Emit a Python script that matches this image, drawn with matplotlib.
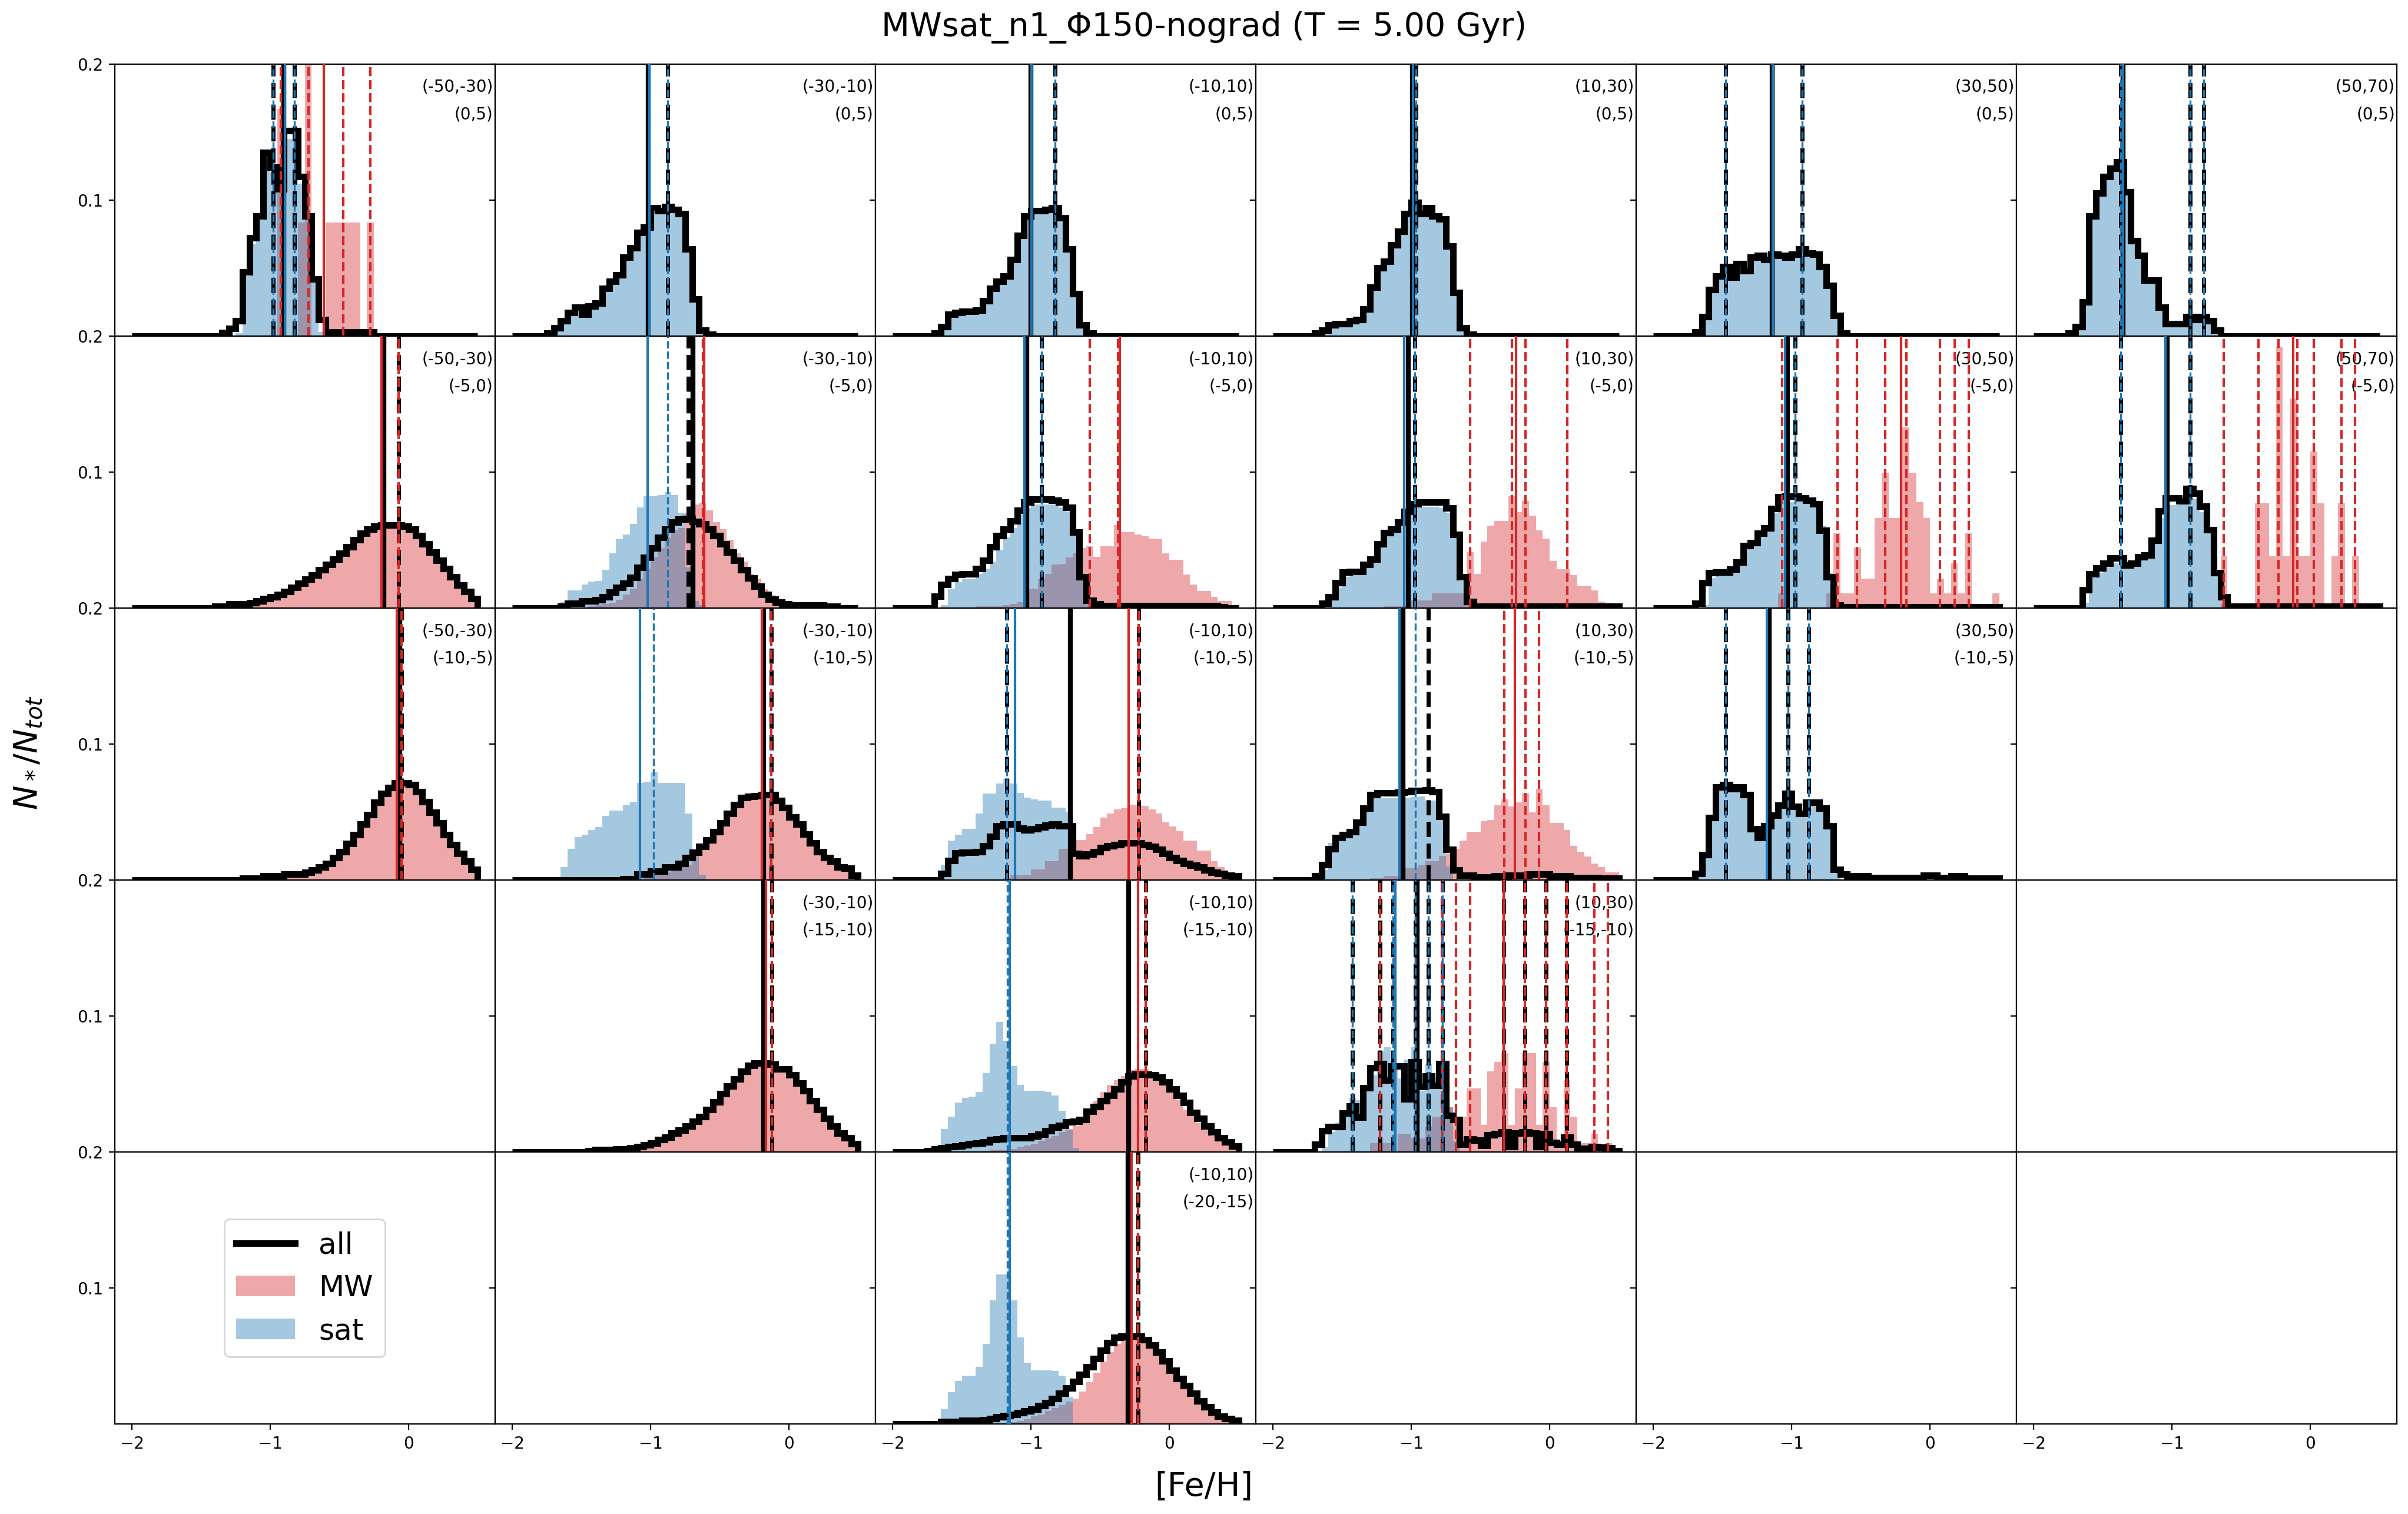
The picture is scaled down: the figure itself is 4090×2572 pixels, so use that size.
import numpy as np
import matplotlib
matplotlib.use("Agg")
import matplotlib.pyplot as plt
from matplotlib.lines import Line2D
from matplotlib.patches import Patch

# ---------------- data ----------------
TITLE = "MWsat_n1_Φ150-nograd (T = 5.00 Gyr)"
BIN_LO, BIN_HI, N_BINS = -2.0, 0.5, 50
X_LABELS = ["(-50,-30)", "(-30,-10)", "(-10,10)", "(10,30)", "(30,50)", "(50,70)"]
Z_LABELS = ["(0,5)", "(-5,0)", "(-10,-5)", "(-15,-10)", "(-20,-15)"]

# histograms: (first bin index, values)   bins of 0.05 dex from -2 to 0.5
ALL_00 = (13, [0.0025, 0.0055, 0.011, 0.047, 0.072, 0.088, 0.135, 0.124, 0.108, 0.151, 0.151, 0.117,
               0.088, 0.042, 0.012, 0.003, 0.003, 0.003, 0.003, 0.003, 0.003, 0.003])
SAT_00 = (15, [0.002, 0.044, 0.068, 0.085, 0.13, 0.12, 0.105, 0.145, 0.145, 0.112, 0.085, 0.04, 0.003])
MW_00 = (21, [0.1667, 0, 0, 0.0833, 0.25, 0, 0, 0.0833, 0.0833, 0.0833, 0.0833, 0.0833, 0, 0.0833])

ALL_01 = (5, [0.002, 0.006, 0.011, 0.017, 0.021, 0.016, 0.022, 0.024, 0.035, 0.040, 0.045, 0.058, 0.065,
              0.076, 0.080, 0.094, 0.092, 0.095, 0.093, 0.090, 0.064, 0.027, 0.004, 0.001])
SAT_01 = (5, [0.002, 0.006, 0.011, 0.017, 0.021, 0.016, 0.022, 0.024, 0.035, 0.040, 0.045, 0.058, 0.065,
              0.076, 0.080, 0.094, 0.092, 0.095, 0.093, 0.090, 0.064, 0.027, 0.004, 0.001])

ALL_02 = (6, [0.002, 0.007, 0.016, 0.017, 0.018, 0.018, 0.019, 0.026, 0.035, 0.040, 0.044, 0.056, 0.074,
              0.088, 0.092, 0.092, 0.093, 0.094, 0.087, 0.064, 0.031, 0.008, 0.002])
SAT_02 = (6, [0.002, 0.007, 0.016, 0.017, 0.018, 0.018, 0.019, 0.026, 0.035, 0.040, 0.044, 0.056, 0.074,
              0.088, 0.092, 0.092, 0.093, 0.094, 0.087, 0.064, 0.031, 0.008, 0.002])

ALL_03 = (6, [0.002, 0.004, 0.008, 0.009, 0.009, 0.011, 0.012, 0.020, 0.036, 0.050, 0.055, 0.067, 0.077,
              0.090, 0.098, 0.090, 0.094, 0.088, 0.086, 0.066, 0.032, 0.006, 0.001])
SAT_03 = (6, [0.002, 0.004, 0.008, 0.009, 0.009, 0.011, 0.012, 0.020, 0.036, 0.050, 0.055, 0.067, 0.077,
              0.090, 0.098, 0.090, 0.094, 0.088, 0.086, 0.066, 0.032, 0.006, 0.001])

ALL_04 = (6, [0.003, 0.014, 0.034, 0.044, 0.051, 0.043, 0.053, 0.048, 0.058, 0.059, 0.056, 0.060, 0.059,
              0.058, 0.060, 0.064, 0.061, 0.060, 0.051, 0.037, 0.015, 0.002])
SAT_04 = (6, [0.003, 0.014, 0.034, 0.044, 0.051, 0.043, 0.053, 0.048, 0.058, 0.059, 0.056, 0.060, 0.059,
              0.058, 0.060, 0.064, 0.061, 0.060, 0.051, 0.037, 0.015, 0.002])

ALL_05 = (5, [0.002, 0.007, 0.025, 0.088, 0.105, 0.117, 0.123, 0.128, 0.106, 0.070, 0.059, 0.041, 0.041,
              0.021, 0.009, 0.009, 0.009, 0.014, 0.012, 0.014, 0.011, 0.004])
SAT_05 = (5, [0.002, 0.007, 0.025, 0.088, 0.105, 0.117, 0.123, 0.128, 0.106, 0.070, 0.059, 0.041, 0.041,
              0.021, 0.009, 0.009, 0.009, 0.014, 0.012, 0.014, 0.011, 0.004])

ALL_10 = (12, [0.0014, 0.0014, 0.003, 0.003, 0.003, 0.004, 0.005, 0.007, 0.008, 0.010, 0.012, 0.015, 0.018,
               0.021, 0.024, 0.028, 0.032, 0.036, 0.040, 0.045, 0.050, 0.055, 0.058, 0.060, 0.061, 0.061,
               0.061, 0.060, 0.058, 0.053, 0.047, 0.041, 0.035, 0.029, 0.023, 0.017, 0.012, 0.007])
MW_10 = (12, [0.0014, 0.0014, 0.003, 0.003, 0.003, 0.004, 0.005, 0.007, 0.008, 0.010, 0.012, 0.015, 0.018,
              0.021, 0.024, 0.028, 0.032, 0.036, 0.040, 0.045, 0.050, 0.055, 0.058, 0.060, 0.061, 0.061,
              0.061, 0.060, 0.058, 0.053, 0.047, 0.041, 0.035, 0.029, 0.023, 0.017, 0.012, 0.007])

ALL_11 = (7, [0.0014, 0.0036, 0.0036, 0.005, 0.005, 0.006, 0.008, 0.0115, 0.015, 0.018, 0.0224, 0.030,
              0.037, 0.044, 0.052, 0.058, 0.063, 0.0655, 0.0657, 0.0635, 0.062, 0.058, 0.053, 0.047, 0.041,
              0.035, 0.028, 0.022, 0.016, 0.010, 0.0065, 0.0043, 0.003, 0.002, 0.002, 0.002, 0.002, 0.002,
              0.0014, 0.0014])
SAT_11 = (6, [0.002, 0.0043, 0.013, 0.013, 0.0173, 0.0195, 0.020, 0.028, 0.040, 0.0505, 0.054, 0.062, 0.074,
              0.082, 0.082, 0.083, 0.085, 0.083, 0.070, 0.030, 0.005, 0.002])
MW_11 = (11, [0.0014, 0.002, 0.003, 0.004, 0.006, 0.010, 0.0144, 0.0217, 0.029, 0.0375, 0.044, 0.052, 0.057,
              0.059, 0.070, 0.076, 0.077, 0.072, 0.063, 0.058, 0.050, 0.040, 0.034, 0.025, 0.0217, 0.0137,
              0.0094, 0.005, 0.0014])

ALL_12 = (6, [0.0087, 0.0173, 0.0217, 0.0245, 0.025, 0.025, 0.029, 0.035, 0.045, 0.053, 0.058, 0.064, 0.072,
              0.078, 0.080, 0.080, 0.080, 0.079, 0.078, 0.074, 0.056, 0.023, 0.0058, 0.003, 0.0017, 0.0017,
              0.0017, 0.0017, 0.0017, 0.0017, 0.0017, 0.0017, 0.0017, 0.0017, 0.0017, 0.0017, 0.0017, 0.0017,
              0.0017, 0.0017, 0.0017, 0.001])
SAT_12 = (7, [0.002, 0.0144, 0.0188, 0.0217, 0.0217, 0.025, 0.029, 0.034, 0.043, 0.052, 0.059, 0.0686, 0.0736,
              0.076, 0.076, 0.076, 0.076, 0.074, 0.0708, 0.054, 0.0225, 0.003])
MW_12 = (12, [0.0014, 0.0014, 0.0014, 0.0014, 0.002, 0.003, 0.0043, 0.0137, 0.0144, 0.0217, 0.025, 0.032,
              0.0325, 0.037, 0.040, 0.044, 0.0455, 0.0375, 0.0455, 0.0455, 0.061, 0.056, 0.0556, 0.054, 0.0527,
              0.051, 0.0505, 0.040, 0.0354, 0.0354, 0.0245, 0.0173, 0.0123, 0.0123, 0.008, 0.005, 0.005])

ALL_13 = (7, [0.0033, 0.0084, 0.0186, 0.0265, 0.027, 0.027, 0.032, 0.036, 0.047, 0.0555, 0.058, 0.063, 0.071,
              0.0765, 0.078, 0.078, 0.078, 0.078, 0.0736, 0.054, 0.023, 0.0048, 0.0012, 0.0012, 0.0012,
              0.0012, 0.0012, 0.0012, 0.0012, 0.0012, 0.0012, 0.0012, 0.0012, 0.0012, 0.0012, 0.0012, 0.0012,
              0.0012, 0.0012, 0.0012, 0.0012, 0.0012, 0.0012])
SAT_13 = (7, [0.002, 0.0055, 0.015, 0.023, 0.025, 0.025, 0.030, 0.035, 0.046, 0.054, 0.0577, 0.063, 0.0707,
              0.0736, 0.0743, 0.0743, 0.0743, 0.0735, 0.070, 0.052, 0.020, 0.002])
MW_13 = (16, [0.0012, 0.0012, 0.0012, 0.0012, 0.0055, 0.0055, 0.0055, 0.0106, 0.0106, 0.0106, 0.0106, 0.0106,
              0.041, 0.025, 0.049, 0.0606, 0.0638, 0.0638, 0.0826, 0.0707, 0.0787, 0.0678, 0.057, 0.051,
              0.0345, 0.0287, 0.0287, 0.0243, 0.0164, 0.0164, 0.0128, 0.0048, 0.004, 0.0026])

ALL_14 = (6, [0.0033, 0.0186, 0.0258, 0.0265, 0.0265, 0.0287, 0.0338, 0.046, 0.048, 0.055, 0.059, 0.073,
              0.0816, 0.0823, 0.0823, 0.081, 0.079, 0.0765, 0.057, 0.023, 0.002, 0.001, 0.001, 0.001, 0.001,
              0.001, 0.001, 0.001, 0.001, 0.001, 0.001, 0.001, 0.001, 0.001, 0.001, 0.001, 0.001, 0.001,
              0.001, 0.001, 0.001, 0.001, 0.001, 0.001])
SAT_14 = (7, [0.002, 0.022, 0.0265, 0.0265, 0.027, 0.031, 0.0446, 0.0475, 0.054, 0.0577, 0.070, 0.078, 0.078,
              0.078, 0.078, 0.078, 0.0765, 0.0606, 0.0258, 0.002])
MW_14 = (18, [0.0106, 0, 0, 0, 0, 0, 0, 0.0106, 0.0548, 0.0106, 0.0106, 0.0446, 0.0214, 0.0214, 0.066, 0.0997,
              0.066, 0.066, 0.133, 0.0997, 0.0777, 0.066, 0.0106, 0.0217, 0.0106, 0.033, 0.0106, 0.0548, 0, 0,
              0, 0.0106])

ALL_15 = (7, [0.0135, 0.025, 0.0294, 0.0330, 0.0367, 0.0367, 0.0316, 0.033, 0.0375, 0.039, 0.0497, 0.0714,
              0.0809, 0.0809, 0.0787, 0.088, 0.0845, 0.075, 0.0577, 0.0258, 0.0084, 0.0012, 0.0012, 0.0012,
              0.0012, 0.0012, 0.0012, 0.0012, 0.0012, 0.0012, 0.0012, 0.0012, 0.0012, 0.0012, 0.0012, 0.0012,
              0.0012, 0.0012, 0.0012, 0.0012, 0.0012, 0.0012, 0.0012])
SAT_15 = (7, [0.004, 0.022, 0.026, 0.030, 0.033, 0.033, 0.031, 0.033, 0.036, 0.038, 0.0475, 0.066, 0.0758,
              0.0758, 0.076, 0.080, 0.080, 0.0707, 0.0548, 0.0265, 0.003])
MW_15 = (27, [0.038, 0, 0, 0, 0, 0.0768, 0.0768, 0.038, 0.192, 0.038, 0.154, 0.038, 0.038, 0.115, 0.0768, 0,
              0.038, 0.0768, 0, 0.038])

ALL_20 = (16, [0.0014, 0.0014, 0.0014, 0.003, 0.003, 0.003, 0.0043, 0.0043, 0.0043, 0.0058, 0.0072, 0.0094,
               0.0123, 0.0166, 0.021, 0.0267, 0.0332, 0.041, 0.048, 0.057, 0.0635, 0.068, 0.0715, 0.0715,
               0.070, 0.065, 0.0578, 0.0498, 0.042, 0.0332, 0.026, 0.0195, 0.0137, 0.008])
MW_20 = (16, [0.0014, 0.0014, 0.0014, 0.003, 0.003, 0.003, 0.0043, 0.0043, 0.0043, 0.0058, 0.0072, 0.0094,
              0.0123, 0.0166, 0.021, 0.0267, 0.0332, 0.041, 0.048, 0.057, 0.0635, 0.068, 0.0715, 0.0715,
              0.070, 0.065, 0.0578, 0.0498, 0.042, 0.0332, 0.026, 0.0195, 0.0137, 0.008])

ALL_21 = (16, [0.0007, 0.0007, 0.0043, 0.0043, 0.0065, 0.0065, 0.0094, 0.0094, 0.0123, 0.0166, 0.0202, 0.0245,
               0.0296, 0.0354, 0.0419, 0.049, 0.0556, 0.0606, 0.0614, 0.0620, 0.0628, 0.0630, 0.0585, 0.0534,
               0.0462, 0.041, 0.034, 0.0274, 0.021, 0.0166, 0.0137, 0.0094, 0.0087, 0.0036])
SAT_21 = (7, [0.0094, 0.023, 0.0318, 0.0332, 0.0368, 0.039, 0.047, 0.0513, 0.0513, 0.0556, 0.0578, 0.0715,
              0.0722, 0.0794, 0.0715, 0.0715, 0.0715, 0.0715, 0.049, 0.021, 0.004])
MW_21 = (19, [0.002, 0.0036, 0.0045, 0.0058, 0.0075, 0.0095, 0.0115, 0.018, 0.0245, 0.0296, 0.0354, 0.0419,
              0.049, 0.0556, 0.0606, 0.0614, 0.062, 0.0628, 0.063, 0.0585, 0.0534, 0.0462, 0.041, 0.034,
              0.0274, 0.021, 0.0166, 0.0137, 0.0094, 0.0087, 0.0036])

ALL_22 = (7, [0.005, 0.0144, 0.020, 0.0202, 0.0202, 0.021, 0.025, 0.032, 0.0397, 0.041, 0.041, 0.038, 0.0368,
              0.0375, 0.039, 0.0404, 0.041, 0.040, 0.040, 0.0195, 0.018, 0.019, 0.021, 0.0238, 0.025, 0.026,
              0.0274, 0.0274, 0.0274, 0.026, 0.0245, 0.0224, 0.0195, 0.0166, 0.0145, 0.0123, 0.011, 0.0094,
              0.0075, 0.0058, 0.0047, 0.0036, 0.003])
SAT_22 = (7, [0.0115, 0.029, 0.0332, 0.0375, 0.0375, 0.049, 0.0635, 0.0635, 0.0708, 0.0744, 0.0708, 0.0643,
              0.0607, 0.0592, 0.0585, 0.0585, 0.0534, 0.0534, 0.050])
MW_22 = (16, [0.0014, 0.0036, 0.0036, 0.0036, 0.008, 0.008, 0.0137, 0.0137, 0.023, 0.023, 0.0296, 0.0296,
              0.034, 0.039, 0.046, 0.049, 0.052, 0.0527, 0.0556, 0.0556, 0.0545, 0.052, 0.049, 0.0426, 0.0395,
              0.0361, 0.0289, 0.0289, 0.0217, 0.0217, 0.0137, 0.0094, 0.0036, 0.0036])

ALL_23 = (6, [0.003, 0.0115, 0.023, 0.031, 0.0332, 0.0354, 0.0426, 0.0527, 0.0628, 0.0643, 0.0643, 0.0643,
              0.0645, 0.065, 0.0657, 0.0657, 0.0664, 0.065, 0.0469, 0.0224, 0.0072, 0.0036, 0.0036, 0.0022,
              0.0022, 0.0022, 0.003, 0.003, 0.0036, 0.0036, 0.0036, 0.0043, 0.0043, 0.0043, 0.003, 0.003,
              0.003, 0.0019, 0.0019, 0.0019, 0.0019, 0.0014, 0.0014, 0.0014])
SAT_23 = (7, [0.0072, 0.0274, 0.031, 0.032, 0.0361, 0.0433, 0.0549, 0.065, 0.060, 0.060, 0.060, 0.060, 0.0605,
              0.061, 0.0614, 0.0585, 0.0585, 0.0477, 0.010])
MW_23 = (14, [0.0014, 0.0014, 0.003, 0.003, 0.004, 0.0087, 0.0087, 0.011, 0.0137, 0.0137, 0.018, 0.0195,
              0.023, 0.0289, 0.0354, 0.0354, 0.0433, 0.044, 0.0549, 0.0592, 0.054, 0.057, 0.0635, 0.0498,
              0.0671, 0.0549, 0.0419, 0.0419, 0.0368, 0.0253, 0.021, 0.0173, 0.0123, 0.0094, 0.0058, 0.0058])

ALL_24 = (6, [0.005, 0.0188, 0.046, 0.0686, 0.070, 0.0671, 0.0686, 0.0628, 0.0375, 0.031, 0.0397, 0.0477,
              0.0549, 0.0635, 0.054, 0.049, 0.057, 0.057, 0.0527, 0.0397, 0.0079, 0.0043, 0.003, 0.003, 0.003,
              0.0019, 0.0019, 0.0019, 0.0019, 0.0019, 0.0019, 0.0019, 0.0019, 0.0036, 0.0036, 0.0019, 0.0019,
              0.003, 0.003, 0.0014, 0.0014, 0.0014, 0.0014, 0.0014])
SAT_24 = (6, [0.004, 0.018, 0.045, 0.067, 0.069, 0.066, 0.067, 0.061, 0.036, 0.030, 0.039, 0.047, 0.054,
              0.062, 0.053, 0.048, 0.056, 0.056, 0.052, 0.039, 0.007])

ALL_31 = (11, [0.001, 0.0017, 0.0017, 0.0017, 0.0025, 0.0025, 0.0032, 0.0039, 0.0053, 0.0068, 0.009, 0.0111,
               0.014, 0.0162, 0.019, 0.0227, 0.0263, 0.0314, 0.0371, 0.0429, 0.0487, 0.0538, 0.0595, 0.0639,
               0.0653, 0.0653, 0.0646, 0.061, 0.061, 0.0566, 0.0509, 0.0451, 0.0379, 0.0314, 0.0249, 0.019,
               0.014, 0.0104, 0.0061])
MW_31 = (11, [0.001, 0.0017, 0.0017, 0.0017, 0.0025, 0.0025, 0.0032, 0.0039, 0.0053, 0.0068, 0.009, 0.0111,
              0.014, 0.0162, 0.019, 0.0227, 0.0263, 0.0314, 0.0371, 0.0429, 0.0487, 0.0538, 0.0595, 0.0639,
              0.0653, 0.0653, 0.0646, 0.061, 0.061, 0.0566, 0.0509, 0.0451, 0.0379, 0.0314, 0.0249, 0.019,
              0.014, 0.0104, 0.0061])

ALL_32 = (5, [0.001, 0.0025, 0.003, 0.0039, 0.0046, 0.0053, 0.006, 0.0068, 0.0075, 0.009, 0.0097, 0.0104,
              0.0104, 0.0104, 0.0104, 0.012, 0.0133, 0.0155, 0.0184, 0.0198, 0.022, 0.0227, 0.0241, 0.0299,
              0.0335, 0.0379, 0.0415, 0.0465, 0.0516, 0.0559, 0.0574, 0.0574, 0.0566, 0.0552, 0.0516, 0.0465,
              0.0415, 0.0364, 0.0292, 0.0249, 0.019, 0.0147, 0.0104, 0.0075, 0.0046])
SAT_32 = (7, [0.0169, 0.0263, 0.0364, 0.040, 0.0408, 0.0444, 0.058, 0.0798, 0.0957, 0.082, 0.0632, 0.0494,
              0.0451, 0.0451, 0.0451, 0.0444, 0.0415, 0.0306, 0.0162, 0.003])
MW_32 = (13, [0.001, 0.0017, 0.0017, 0.0017, 0.0025, 0.0039, 0.005, 0.006, 0.0082, 0.01, 0.0118, 0.0147,
              0.0169, 0.019, 0.0256, 0.0314, 0.0379, 0.0444, 0.0494, 0.053, 0.056, 0.0603, 0.061, 0.061,
              0.0581, 0.0559, 0.0509, 0.0465, 0.0386, 0.0314, 0.027, 0.0212, 0.0162, 0.0118, 0.0082, 0.005,
              0.0025])

ALL_33 = (6, [0.0058, 0.0156, 0.0187, 0.0187, 0.0285, 0.0338, 0.0255, 0.0475, 0.0619, 0.065, 0.0528, 0.0634,
              0.0634, 0.0392, 0.0665, 0.0483, 0.0558, 0.049, 0.065, 0.027, 0.024, 0.0058, 0.0096, 0.0088,
              0.005, 0.0126, 0.0134, 0.0149, 0.004, 0.0141, 0.0149, 0.0141, 0.004, 0.0134, 0.007, 0.0058,
              0.011, 0.0058, 0.0027, 0.0027, 0.004, 0.0035, 0.003, 0.0012])
SAT_33 = (7, [0.0035, 0.015, 0.0217, 0.030, 0.040, 0.038, 0.0483, 0.0566, 0.074, 0.077, 0.063, 0.0543, 0.068,
              0.077, 0.0452, 0.065, 0.055, 0.0657, 0.033, 0.008])
MW_33 = (14, [0.0065, 0.0065, 0.0065, 0, 0.0134, 0.0134, 0.01, 0.01, 0.0187, 0.026, 0.026, 0.033, 0.026,
              0.026, 0.0467, 0.0467, 0.0202, 0.0596, 0.0665, 0.0728, 0.0202, 0.0467, 0.0728, 0.0728, 0.0202,
              0.0665, 0.033, 0.006, 0.0528, 0.026, 0.0065, 0.0065, 0.0134, 0.003, 0.0065])

ALL_42 = (7, [0.0019, 0.0019, 0.0019, 0.0026, 0.0026, 0.0026, 0.0034, 0.0042, 0.0053, 0.0062, 0.0073, 0.0084,
              0.0096, 0.011, 0.0135, 0.0158, 0.0189, 0.0228, 0.0266, 0.0313, 0.0367, 0.042, 0.0483, 0.0545,
              0.060, 0.0638, 0.0646, 0.0646, 0.0646, 0.0622, 0.0584, 0.053, 0.0467, 0.0398, 0.0336, 0.0282,
              0.0228, 0.0173, 0.0127, 0.0088, 0.0057, 0.0042, 0.0026])
SAT_42 = (7, [0.011, 0.0235, 0.032, 0.0359, 0.0359, 0.042, 0.059, 0.0909, 0.110, 0.110, 0.0909, 0.0638,
              0.0452, 0.0398, 0.0398, 0.0398, 0.039, 0.0359, 0.020])
MW_42 = (15, [0.0006, 0.001, 0.0017, 0.0025, 0.0036, 0.0057, 0.0073, 0.0096, 0.0119, 0.014, 0.0165, 0.019,
              0.024, 0.031, 0.038, 0.046, 0.053, 0.059, 0.063, 0.0646, 0.0646, 0.0622, 0.0584, 0.053, 0.0467,
              0.0398, 0.0336, 0.0282, 0.0228, 0.0173, 0.0127, 0.0088, 0.0057, 0.0042, 0.0026])

# vertical markers: (median, [peaks]) for all / MW / sat
LINES_00 = dict(all=(-0.90, [-0.978, -0.824]), mw=(-0.611, [-0.922, -0.724, -0.472, -0.276]),
                sat=(-0.892, [-0.978, -0.824]))
LINES_01 = dict(all=(-1.016, [-0.878]), sat=(-1.010, [-0.878]))
LINES_02 = dict(all=(-1.0, [-0.826]), sat=(-0.995, [-0.826]))
LINES_03 = dict(all=(-0.992, [-0.966]), sat=(-0.988, [-0.966]))
LINES_04 = dict(all=(-1.14, [-1.479, -0.923]), sat=(-1.136, [-1.479, -0.923]))
LINES_05 = dict(all=(-1.357, [-1.37, -0.869, -0.774]), sat=(-1.353, [-1.37, -0.869, -0.774]))
LINES_10 = dict(all=(-0.178, [-0.073]), mw=(-0.196, [-0.073]))
LINES_11 = dict(all=(-0.695, [-0.73]), mw=(-0.615, [-0.62]), sat=(-1.022, [-0.875]))
LINES_12 = dict(all=(-1.03, [-0.924]), mw=(-0.356, [-0.576, -0.37]), sat=(-1.049, [-0.924]))
LINES_13 = dict(all=(-1.024, [-0.976]), mw=(-0.245, [-0.574, -0.272, -0.176, 0.125]), sat=(-1.05, [-0.976]))
LINES_14 = dict(all=(-1.03, [-0.976]),
                mw=(-0.209, [-1.07, -0.669, -0.527, -0.326, -0.172, 0.072, 0.178, 0.279]),
                sat=(-1.05, [-0.976]))
LINES_15 = dict(all=(-1.034, [-1.372, -0.87]),
                mw=(-0.124, [-0.627, -0.378, -0.23, -0.097, 0.025, 0.226, 0.321]),
                sat=(-1.05, [-1.372, -0.87]))
LINES_20 = dict(all=(-0.065, [-0.049]), mw=(-0.086, [-0.049]))
LINES_21 = dict(all=(-0.182, [-0.129]), mw=(-0.197, [-0.129]), sat=(-1.079, [-0.979]))
LINES_22 = dict(all=(-0.714, [-1.174, -0.223]), mw=(-0.292, [-0.223]), sat=(-1.115, [-1.174]))
LINES_23 = dict(all=(-1.06, [-0.876]), mw=(-0.251, [-0.329, -0.177, -0.078]), sat=(-1.088, [-0.971]))
LINES_24 = dict(all=(-1.162, [-1.48, -1.025, -0.876]), sat=(-1.18, [-1.48, -1.025, -0.876]))
LINES_31 = dict(all=(-0.183, [-0.123]), mw=(-0.165, [-0.123]))
LINES_32 = dict(all=(-0.292, [-0.172]), mw=(-0.225, [-0.172]), sat=(-1.153, [-1.171]))
LINES_33 = dict(all=(-0.96, [-1.428, -1.226, -1.131, -0.972, -0.877, -0.776, -0.331, -0.179, -0.025, 0.124]),
                mw=(-0.331, [-1.226, -0.776, -0.677, -0.575, -0.331, -0.179, -0.025, 0.124, 0.323, 0.422]),
                sat=(-1.116, [-1.428, -1.131, -0.972, -0.877, -0.776]))
LINES_42 = dict(all=(-0.298, [-0.226]), mw=(-0.272, [-0.226]), sat=(-1.156, [-1.169]))

PANELS = {
    (0, 0): (ALL_00, MW_00, SAT_00, LINES_00), (0, 1): (ALL_01, None, SAT_01, LINES_01),
    (0, 2): (ALL_02, None, SAT_02, LINES_02), (0, 3): (ALL_03, None, SAT_03, LINES_03),
    (0, 4): (ALL_04, None, SAT_04, LINES_04), (0, 5): (ALL_05, None, SAT_05, LINES_05),
    (1, 0): (ALL_10, MW_10, None, LINES_10), (1, 1): (ALL_11, MW_11, SAT_11, LINES_11),
    (1, 2): (ALL_12, MW_12, SAT_12, LINES_12), (1, 3): (ALL_13, MW_13, SAT_13, LINES_13),
    (1, 4): (ALL_14, MW_14, SAT_14, LINES_14), (1, 5): (ALL_15, MW_15, SAT_15, LINES_15),
    (2, 0): (ALL_20, MW_20, None, LINES_20), (2, 1): (ALL_21, MW_21, SAT_21, LINES_21),
    (2, 2): (ALL_22, MW_22, SAT_22, LINES_22), (2, 3): (ALL_23, MW_23, SAT_23, LINES_23),
    (2, 4): (ALL_24, None, SAT_24, LINES_24),
    (3, 1): (ALL_31, MW_31, None, LINES_31), (3, 2): (ALL_32, MW_32, SAT_32, LINES_32),
    (3, 3): (ALL_33, MW_33, SAT_33, LINES_33),
    (4, 2): (ALL_42, MW_42, SAT_42, LINES_42),
}

# ---------------- plotting ----------------
EDGES = np.linspace(BIN_LO, BIN_HI, N_BINS + 1)
RED, BLUE = "tab:red", "tab:blue"


def expand(sparse):
    arr = np.zeros(N_BINS)
    start, vals = sparse
    arr[start:start + len(vals)] = vals
    return arr


fig, axes = plt.subplots(5, 6, figsize=(20.45, 12.86), dpi=200, sharex=True, sharey=True)
fig.subplots_adjust(left=0.0476, right=0.9954, bottom=0.0593, top=0.9578, wspace=0, hspace=0)

axes[0, 0].set_xlim(-2.125, 0.625)
axes[0, 0].set_ylim(0, 0.2)
axes[0, 0].set_xticks([-2, -1, 0])
axes[0, 0].set_yticks([0.1, 0.2])
for ax in axes.flat:
    ax.tick_params(labelsize=10)

for (r, c), (h_all, h_mw, h_sat, lines) in PANELS.items():
    ax = axes[r, c]
    if h_mw is not None:
        ax.stairs(expand(h_mw), EDGES, fill=True, color=RED, alpha=0.4, lw=0, zorder=1)
    if h_sat is not None:
        ax.stairs(expand(h_sat), EDGES, fill=True, color=BLUE, alpha=0.4, lw=0, zorder=1.1)
    ax.stairs(expand(h_all), EDGES, color="k", lw=4, zorder=2)

    med, pks = lines["all"]
    ax.axvline(med, color="k", lw=3, zorder=3)
    for p in pks:
        ax.axvline(p, color="k", lw=2.5, ls="--", zorder=3)
    if "mw" in lines:
        med, pks = lines["mw"]
        ax.axvline(med, color=RED, lw=1.5, zorder=4)
        for p in pks:
            ax.axvline(p, color=RED, lw=1.5, ls="--", zorder=4)
    if "sat" in lines:
        med, pks = lines["sat"]
        ax.axvline(med, color=BLUE, lw=1.5, zorder=5)
        for p in pks:
            ax.axvline(p, color=BLUE, lw=1.2, ls="--", zorder=5)

    ax.text(0.995, 0.915, X_LABELS[c], transform=ax.transAxes, ha="right", va="center", fontsize=10)
    ax.text(0.995, 0.815, Z_LABELS[r], transform=ax.transAxes, ha="right", va="center", fontsize=10)

handles = [Line2D([0], [0], color="k", lw=4, label="all"),
           Patch(facecolor=RED, alpha=0.4, label="MW"),
           Patch(facecolor=BLUE, alpha=0.4, label="sat")]
axes[4, 0].legend(handles=handles, loc="center", fontsize=18)

fig.text(0.5, 0.982, TITLE, ha="center", va="center", fontsize=20)
fig.text(0.0115, 0.503, r"$N_*/N_{tot}$", rotation=90, ha="center", va="center", fontsize=20)
fig.text(0.5, 0.018, "[Fe/H]", ha="center", va="center", fontsize=20)

fig.savefig("out.png", dpi=200)
